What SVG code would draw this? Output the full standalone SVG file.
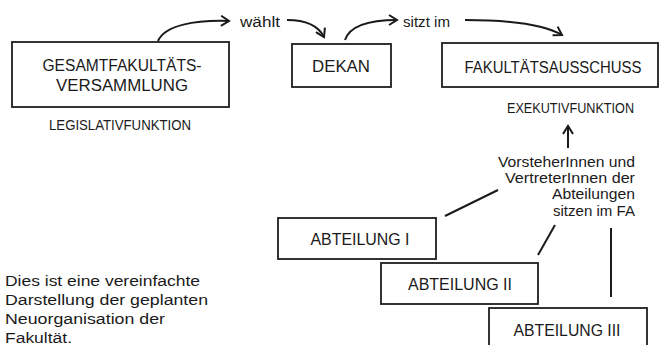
<svg xmlns="http://www.w3.org/2000/svg" width="661" height="345" viewBox="0 0 661 345">
<defs>
<marker id="head" markerUnits="userSpaceOnUse" markerWidth="14" markerHeight="14" refX="9" refY="6" orient="auto">
<path d="M1,1 L9,6 L1,11" fill="none" stroke="#1a1a1a" stroke-width="2"/>
</marker>
<style>
.box{fill:#fff;stroke:#1e1e1e;stroke-width:1.8}
.t{font-family:"Liberation Sans",Arial,sans-serif;fill:#1a1a1a}
.lbl{font-size:16px;text-anchor:middle}
.sm{font-size:14px}
.ln{fill:none;stroke:#1a1a1a;stroke-width:2}
</style>
</defs>
<rect width="661" height="345" fill="#fff"/>
<g id="connectors">
<path class="ln" d="M158,41 C165,25 195,20 229,21" marker-end="url(#head)"/>
<path class="ln" d="M287,20 C305,20 318,25 324,37" marker-end="url(#head)"/>
<path class="ln" d="M345,40 C350,25 370,20 397,20" marker-end="url(#head)"/>
<path class="ln" d="M465,20 C510,20 545,25 562,35" marker-end="url(#head)"/>
<path class="ln" d="M568,148 L568,126" marker-end="url(#head)"/>
<path class="ln" d="M445,216 L498,190"/>
<path class="ln" d="M538,255 L555,225"/>
<path class="ln" d="M611,228 L611,297"/>
<text class="t sm" x="240" y="27" textLength="40" lengthAdjust="spacingAndGlyphs">wählt</text>
<text class="t sm" x="403" y="27" textLength="47" lengthAdjust="spacingAndGlyphs">sitzt im</text>
</g>
<g id="gesamt">
<rect class="box" x="12" y="42" width="217" height="65"/>
<text class="t lbl" x="122" y="71" textLength="159" lengthAdjust="spacingAndGlyphs">GESAMTFAKULTÄTS-</text>
<text class="t lbl" x="122" y="91" textLength="132" lengthAdjust="spacingAndGlyphs">VERSAMMLUNG</text>
<text class="t sm" x="49" y="130" textLength="142" lengthAdjust="spacingAndGlyphs">LEGISLATIVFUNKTION</text>
</g>
<g id="dekan">
<rect class="box" x="292" y="44" width="99" height="43"/>
<text class="t lbl" x="341" y="72" textLength="58" lengthAdjust="spacingAndGlyphs">DEKAN</text>
</g>
<g id="fa">
<rect class="box" x="442" y="43" width="216" height="44"/>
<text class="t lbl" x="553" y="73" textLength="177" lengthAdjust="spacingAndGlyphs">FAKULTÄTSAUSSCHUSS</text>
<text class="t sm" x="507" y="113" textLength="127" lengthAdjust="spacingAndGlyphs">EXEKUTIVFUNKTION</text>
</g>
<g id="note">
<text class="t sm" text-anchor="end" x="635" y="167" textLength="137" lengthAdjust="spacingAndGlyphs">VorsteherInnen und</text>
<text class="t sm" text-anchor="end" x="635" y="183" textLength="130" lengthAdjust="spacingAndGlyphs">VertreterInnen der</text>
<text class="t sm" text-anchor="end" x="635" y="199" textLength="83" lengthAdjust="spacingAndGlyphs">Abteilungen</text>
<text class="t sm" text-anchor="end" x="635" y="216" textLength="82" lengthAdjust="spacingAndGlyphs">sitzen im FA</text>
</g>
<g id="abt1">
<rect class="box" x="278" y="218" width="158" height="41"/>
<text class="t lbl" x="360" y="245" textLength="99" lengthAdjust="spacingAndGlyphs">ABTEILUNG I</text>
</g>
<g id="abt2">
<rect class="box" x="381" y="263" width="157" height="41"/>
<text class="t lbl" x="460" y="290" textLength="104" lengthAdjust="spacingAndGlyphs">ABTEILUNG II</text>
</g>
<g id="abt3">
<rect class="box" x="489" y="308" width="158" height="45"/>
<text class="t lbl" x="567" y="336" textLength="107" lengthAdjust="spacingAndGlyphs">ABTEILUNG III</text>
</g>
<g id="desc">
<text class="t sm" x="5" y="286" textLength="195" lengthAdjust="spacingAndGlyphs">Dies ist eine vereinfachte</text>
<text class="t sm" x="5" y="305" textLength="203" lengthAdjust="spacingAndGlyphs">Darstellung der geplanten</text>
<text class="t sm" x="5" y="324" textLength="160" lengthAdjust="spacingAndGlyphs">Neuorganisation der</text>
<text class="t sm" x="5" y="343" textLength="67" lengthAdjust="spacingAndGlyphs">Fakultät.</text>
</g>
</svg>
